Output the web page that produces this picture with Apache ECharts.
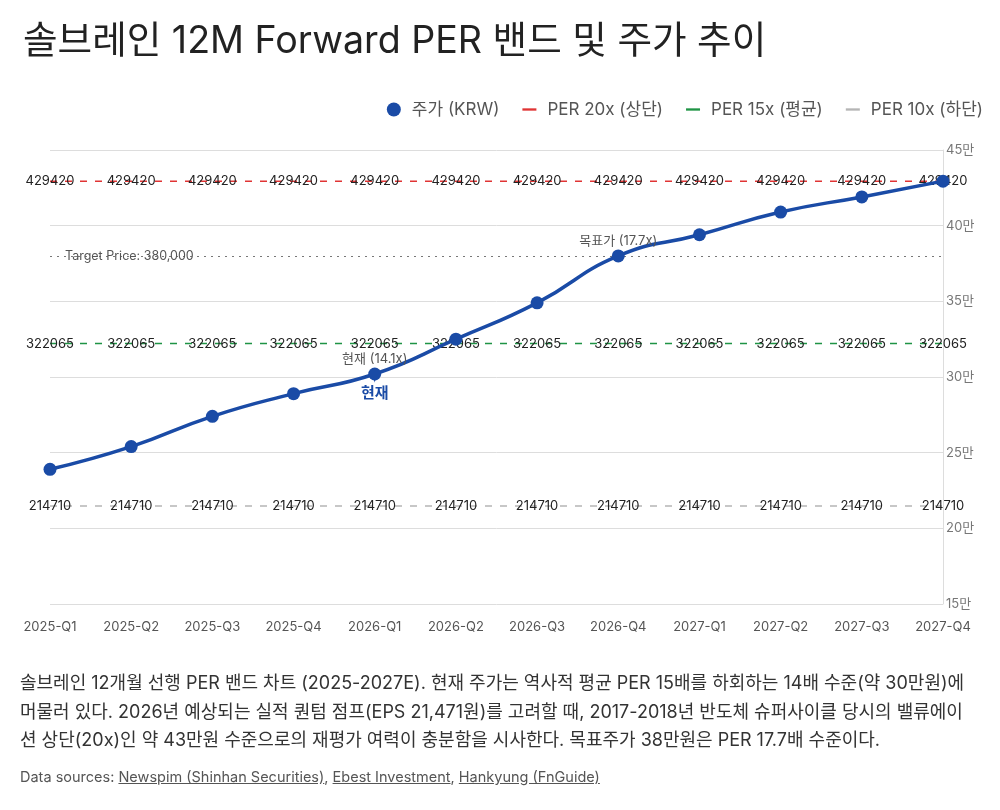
<!DOCTYPE html>
<html>
<head>
<meta charset="utf-8">
<script src="https://cdn.jsdelivr.net/npm/echarts@6/dist/echarts.min.js"></script>
<style>
  html, body { margin: 0; padding: 0; background: #fff; }
  #chart { width: 1000px; height: 810px; }
  .note {
    position: absolute; left: 20px; top: 669px; width: 975px;
    font-family: Inter, "Noto Sans CJK KR", sans-serif;
    font-size: 18px; line-height: 28.5px; color: #333; white-space: nowrap;
  }
  .src {
    position: absolute; left: 20px; top: 768px;
    font-family: Inter, "Noto Sans CJK KR", sans-serif;
    font-size: 14.5px; color: #555;
  }
  .src u { text-decoration: underline; }
</style>
</head>
<body>
<div id="chart"></div>
<div class="note">솔브레인 12개월 선행 PER 밴드 차트 (2025-2027E). 현재 주가는 역사적 평균 PER 15배를 하회하는 14배 수준(약 30만원)에<br>머물러 있다. 2026년 예상되는 실적 퀀텀 점프(EPS 21,471원)를 고려할 때, 2017-2018년 반도체 슈퍼사이클 당시의 밸류에이<br>션 상단(20x)인 약 43만원 수준으로의 재평가 여력이 충분함을 시사한다. 목표주가 38만원은 PER 17.7배 수준이다.</div>
<div class="src">Data sources: <u>Newspim (Shinhan Securities)</u>, <u>Ebest Investment</u>, <u>Hankyung (FnGuide)</u></div>
<script>
// 분기
const quarters = ['2025-Q1', '2025-Q2', '2025-Q3', '2025-Q4', '2026-Q1', '2026-Q2',
  '2026-Q3', '2026-Q4', '2027-Q1', '2027-Q2', '2027-Q3', '2027-Q4'];

// 주가 (KRW)
const price = [239000, 254000, 274000, 289000, 302000, 325000,
  349000, 380000, 394000, 409000, 419000, 429420];

// PER 밴드
const per20 = [429420, 429420, 429420, 429420, 429420, 429420, 429420, 429420, 429420, 429420, 429420, 429420];
const per15 = [322065, 322065, 322065, 322065, 322065, 322065, 322065, 322065, 322065, 322065, 322065, 322065];
const per10 = [214710, 214710, 214710, 214710, 214710, 214710, 214710, 214710, 214710, 214710, 214710, 214710];

const targetPrice = 380000;
const nowIdx = 4;
const targetIdx = 7;

const font = 'Inter, "Noto Sans CJK KR", sans-serif';
const blue = '#1a4ba6';
const red = '#e03434';
const green = '#1f9445';
const grey = '#b5b5b5';

const chart = echarts.init(document.getElementById('chart'));

function band(name, data, color) {
  return {
    name: name,
    type: 'line',
    data: data,
    color: color,
    symbol: 'circle',
    symbolSize: 1,
    itemStyle: { color: 'rgba(0,0,0,0)' },
    lineStyle: { color: color, width: 1.5, type: [7, 8] },
    label: {
      show: true,
      position: 'inside',
      color: '#222',
      fontSize: 13,
      fontFamily: font
    },
    emphasis: { disabled: true },
    silent: true,
    z: 1
  };
}

// 주가 데이터 (라벨 포함)
const priceData = price.map((v, i) => {
  if (i === nowIdx) {
    return { value: v, label: { show: true, formatter: '현재 (14.1x)' } };
  }
  if (i === targetIdx) {
    return { value: v, label: { show: true, formatter: '목표가 (17.7x)' } };
  }
  return v;
});

const lineIcon = 'path://M0,0 L12,0 L12,2 L0,2 Z';

const option = {
  backgroundColor: '#fff',
  animation: false,
  textStyle: { fontFamily: font },
  title: {
    text: '솔브레인 12M Forward PER 밴드 및 주가 추이',
    left: 18,
    top: 18,
    textStyle: { fontSize: 37.6, fontWeight: 'normal', color: '#222', fontFamily: font }
  },
  legend: {
    right: 12,
    top: 96,
    itemGap: 23,
    itemWidth: 14,
    itemHeight: 14,
    textStyle: { fontSize: 17, color: '#555', fontFamily: font, padding: [0, 0, 0, 6] },
    data: [
      { name: '주가 (KRW)', icon: 'circle', itemStyle: { color: blue } },
      { name: 'PER 20x (상단)', icon: lineIcon, itemStyle: { color: red } },
      { name: 'PER 15x (평균)', icon: lineIcon, itemStyle: { color: green } },
      { name: 'PER 10x (하단)', icon: lineIcon, itemStyle: { color: grey } }
    ]
  },
  grid: { left: 50, right: 57, top: 150, bottom: 206 },
  xAxis: {
    type: 'category',
    data: quarters,
    boundaryGap: false,
    axisLine: { show: false },
    axisTick: { show: false },
    axisLabel: { color: '#555', fontSize: 13, margin: 17, fontFamily: font }
  },
  yAxis: {
    type: 'value',
    position: 'right',
    min: 150000,
    max: 450000,
    interval: 50000,
    axisLine: { show: true, lineStyle: { color: '#ddd' } },
    axisTick: { show: false },
    axisLabel: {
      color: '#777', fontSize: 13, margin: 3, fontFamily: font,
      formatter: v => (v / 10000) + '만'
    },
    splitLine: { lineStyle: { color: '#ddd' } }
  },
  series: [
    {
      name: '주가 (KRW)',
      type: 'line',
      data: priceData,
      smooth: true,
      symbol: 'circle',
      symbolSize: 13,
      itemStyle: { color: blue },
      lineStyle: { color: blue, width: 3.5 },
      label: {
        show: false,
        position: 'top',
        distance: 2,
        color: '#555',
        fontSize: 13,
        fontFamily: font
      },
      markLine: {
        silent: true,
        symbol: 'none',
        lineStyle: { color: '#777', type: [2, 5], width: 1.2 },
        label: {
          show: true,
          position: 'insideStart',
          distance: 15,
          color: '#555',
          fontSize: 12.5,
          fontFamily: font,
          formatter: 'Target Price: 380,000'
        },
        data: [{ yAxis: targetPrice }]
      },
      markPoint: {
        silent: true,
        symbol: 'pin',
        symbolSize: [14, 16],
        symbolOffset: [0, 9],
        itemStyle: { color: blue },
        label: {
          show: true,
          position: 'bottom',
          distance: 3,
          formatter: '현재',
          color: blue,
          fontSize: 15,
          fontWeight: 'bold',
          fontFamily: font
        },
        data: [{ coord: [nowIdx, price[nowIdx]] }]
      },
      z: 5
    },
    band('PER 20x (상단)', per20, red),
    band('PER 15x (평균)', per15, green),
    band('PER 10x (하단)', per10, grey)
  ]
};

chart.setOption(option);
</script>
</body>
</html>
